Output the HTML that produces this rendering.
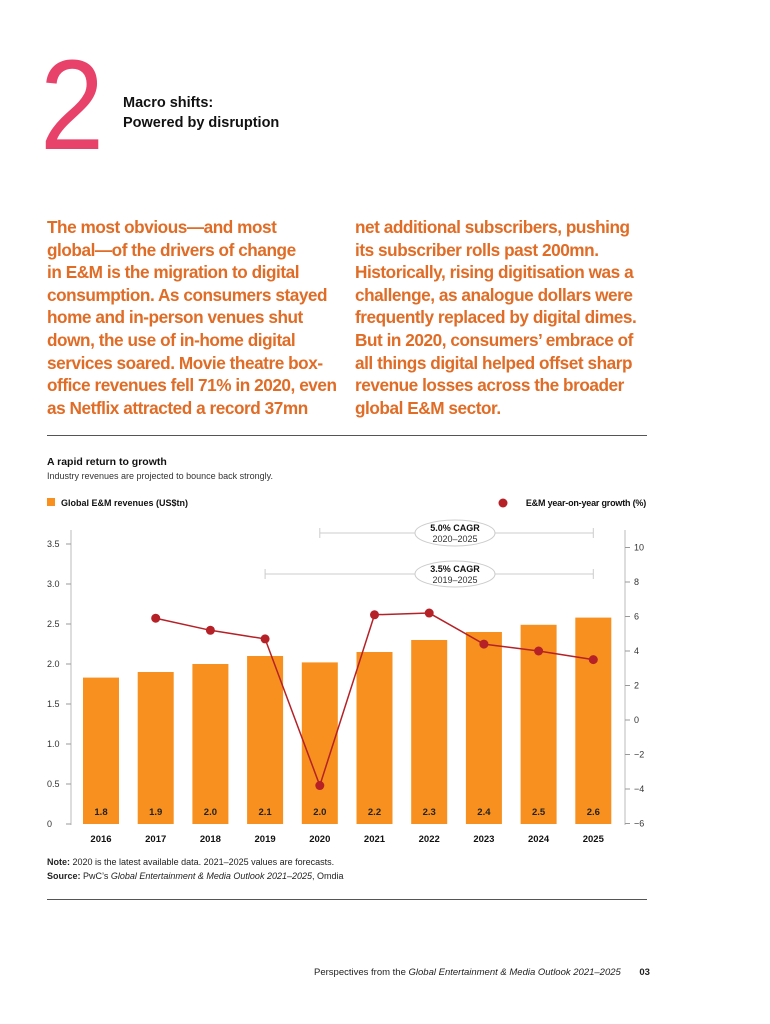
<!DOCTYPE html>
<html><head><meta charset="utf-8">
<style>
body{margin:0;background:#fff;font-family:"Liberation Sans",sans-serif;}
#page{position:relative;width:770px;height:1024px;overflow:hidden;}
.big2{position:absolute;left:40px;top:42px;font-size:128px;font-weight:100;color:#e8426a;line-height:1;letter-spacing:-4px;transform:scaleX(0.9);transform-origin:left;}
.head{position:absolute;left:123px;top:93px;font-size:14.5px;font-weight:bold;line-height:20px;color:#111;}
.col{position:absolute;top:216px;white-space:nowrap;font-size:17.2px;font-weight:bold;line-height:22.6px;color:#e06c26;letter-spacing:-0.45px;}
.rule{position:absolute;left:47px;width:600px;height:1px;background:#555;}
.foot{position:absolute;left:314px;top:967px;font-size:9.5px;color:#222;}
</style></head>
<body><div id="page">
<div class="big2">2</div>
<div class="head">Macro shifts:<br>Powered by disruption</div>
<div class="col" style="left:47px">The most obvious—and most<br>global—of the drivers of change<br>in E&amp;M is the migration to digital<br>consumption. As consumers stayed<br>home and in-person venues shut<br>down, the use of in-home digital<br>services soared. Movie theatre box-<br>office revenues fell 71% in 2020, even<br>as Netflix attracted a record 37mn</div>
<div class="col" style="left:355px">net additional subscribers, pushing<br>its subscriber rolls past 200mn.<br>Historically, rising digitisation was a<br>challenge, as analogue dollars were<br>frequently replaced by digital dimes.<br>But in 2020, consumers’ embrace of<br>all things digital helped offset sharp<br>revenue losses across the broader<br>global E&amp;M sector.</div>
<div class="rule" style="top:435px"></div>
<div class="rule" style="top:899px"></div>
<svg id="chart" width="770" height="1024" style="position:absolute;left:0;top:0"></svg>
<div class="foot">Perspectives from the <i>Global Entertainment &amp; Media Outlook 2021–2025</i> &nbsp; &nbsp; &nbsp; <b>03</b></div>
</div>
<script>
const years=["2016","2017","2018","2019","2020","2021","2022","2023","2024","2025"];
const revenue=[1.83,1.9,2.0,2.1,2.02,2.15,2.3,2.4,2.49,2.58];
const revenueLabels=["1.8","1.9","2.0","2.1","2.0","2.2","2.3","2.4","2.5","2.6"];
const growthYears=["2017","2018","2019","2020","2021","2022","2023","2024","2025"];
const growth=[5.9,5.2,4.7,-3.8,6.1,6.2,4.4,4.0,3.5];
const leftTicks=[0,0.5,1.0,1.5,2.0,2.5,3.0,3.5];
const leftTickLabels=["0","0.5","1.0","1.5","2.0","2.5","3.0","3.5"];
const rightTicks=[-6,-4,-2,0,2,4,6,8,10];
const rightTickLabels=["−6","−4","−2","0","2","4","6","8","10"];
const cagr=[{label:"5.0% CAGR",range:"2020–2025",from:"2020",to:"2025"},{label:"3.5% CAGR",range:"2019–2025",from:"2019",to:"2025"}];

const NS="http://www.w3.org/2000/svg",svg=document.getElementById('chart');
const yL=v=>824-v*80, yR=v=>720-v*17.25;
const xC=y=>101+years.indexOf(y)*54.7;
function mk(t,a,txt){const e=document.createElementNS(NS,t);for(const k in a)e.setAttribute(k,a[k]);if(txt!=null)e.textContent=txt;svg.appendChild(e);return e;}
let e;
e=mk('text',{x:47,y:465,'font-size':10.5,'font-weight':'bold',fill:'#111'},'A rapid return to growth');


e=mk('text',{x:47,y:479,'font-size':9,fill:'#333'},'Industry revenues are projected to bounce back strongly.');


e=mk('rect',{x:47,y:498,width:8,height:8,fill:'#f7901e'});


e=mk('text',{x:61,y:506,'font-size':9,'font-weight':'bold',fill:'#111'},'Global E&M revenues (US$tn)');


e=mk('circle',{cx:503,cy:503,r:4.5,fill:'#b52127'});


e=mk('text',{x:646,y:506,'font-size':9,'font-weight':'bold',fill:'#111','text-anchor':'end','letter-spacing':'-0.2'},'E&M year-on-year growth (%)');


e=mk('line',{x1:71,y1:530,x2:71,y2:825,stroke:'#bbb'});


e=mk('line',{x1:625,y1:530,x2:625,y2:825,stroke:'#bbb'});


leftTicks.forEach((v,i)=>{
 e=mk('line',{x1:66,x2:71,y1:yL(v),y2:yL(v),stroke:'#999'});
 
 
 e=mk('text',{x:47,y:yL(v)+3,'font-size':9,fill:'#333'},leftTickLabels[i]);
 
 
});
rightTicks.forEach((v,i)=>{
 e=mk('line',{x1:625,x2:630,y1:yR(v),y2:yR(v),stroke:'#999'});
 
 
 e=mk('text',{x:634,y:yR(v)+3,'font-size':9,fill:'#333'},rightTickLabels[i]);
 
 
});
years.forEach((y,i)=>{
 const x=xC(y);
 e=mk('rect',{x:x-18,y:yL(revenue[i]),width:36,height:yL(0)-yL(revenue[i]),fill:'#f7901e'});
 
 
 e=mk('text',{x:x,y:815,'font-size':9.5,'font-weight':'bold',fill:'#222','text-anchor':'middle'},revenueLabels[i]);
 
 
 e=mk('text',{x:x,y:842,'font-size':9.5,'font-weight':'bold',fill:'#111','text-anchor':'middle'},y);
 
 
});
e=mk('polyline',{points:growthYears.map((y,i)=>xC(y)+','+yR(growth[i])).join(' '),fill:'none',stroke:'#b52127','stroke-width':1.5});


growthYears.forEach((y,i)=>{
 e=mk('circle',{cx:xC(y),cy:yR(growth[i]),r:4.5,fill:'#b52127'});
 
 
});
cagr.forEach((c,i)=>{
 const yy=533+i*41,x1=xC(c.from),x2=xC(c.to),cx=455;
 e=mk('line',{x1:x1,x2:x2,y1:yy,y2:yy,stroke:'#ccc'});
 
 
 mk('line',{x1:x1,x2:x1,y1:yy-5,y2:yy+5,stroke:'#ccc'});
 mk('line',{x1:x2,x2:x2,y1:yy-5,y2:yy+5,stroke:'#ccc'});
 e=mk('ellipse',{cx:cx,cy:yy,rx:40,ry:13,fill:'#fff',stroke:'#ccc'});
 
 
 e=mk('text',{x:cx,y:yy-2,'font-size':9,'font-weight':'bold',fill:'#111','text-anchor':'middle'},c.label);
 
 
 e=mk('text',{x:cx,y:yy+9,'font-size':9,fill:'#333','text-anchor':'middle'},c.range);
 
 
});
e=mk('text',{x:47,y:865,'font-size':9,fill:'#222'});
e.innerHTML='<tspan font-weight="bold">Note:</tspan> 2020 is the latest available data. 2021–2025 values are forecasts.';


e=mk('text',{x:47,y:879,'font-size':9,fill:'#222'});
e.innerHTML='<tspan font-weight="bold">Source:</tspan> PwC’s <tspan font-style="italic">Global Entertainment &amp; Media Outlook 2021–2025</tspan>, Omdia';


</script>
</body></html>
